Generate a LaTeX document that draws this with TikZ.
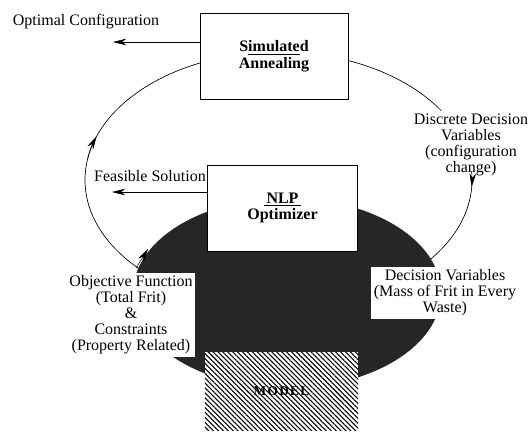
\documentclass[tikz,border=0pt]{standalone}
\usepackage{fontspec}
\setmainfont{Liberation Serif}
\usetikzlibrary{arrows.meta,patterns.meta}

\begin{document}
\begin{tikzpicture}[x=0.75pt,y=-0.75pt,>={Stealth[length=10pt,width=5pt]},
    every node/.style={font=\fontsize{12}{12}\selectfont},
    block/.style={draw, line width=0.6pt, fill=white, align=center, font=\fontsize{12}{12.5}\selectfont\bfseries},
    note/.style={fill=white, align=center, inner sep=2pt}]
  \useasboundingbox (0,0) rectangle (532,433);
  % the outer loop, drawn first so the boxes hide it
  \coordinate (c) at (278.5,180);
  \draw[line width=0.5pt] (c) ellipse [x radius=193.5, y radius=128];
  % dark region under the optimizer
  \fill[black!85] (287,293) ellipse [x radius=154, y radius=95];

  \node[block, minimum width=111pt, minimum height=65pt] (sa) at (274,56.5) {S\underline{imulate}d\\Annealing};
  \node[block, minimum width=112pt, minimum height=64.5pt] (nlp) at (282.5,208) {\underline{\,NLP\,}\\Optimizer};
  \node[fill=white, postaction={pattern={Lines[angle=-45,distance=2.6pt,line width=0.8pt]}},
        minimum width=115pt, minimum height=58.5pt,
        font=\fontsize{10}{10}\selectfont\bfseries\addfontfeature{LetterSpace=10}] (model) at (281.5,391) {MODEL};

  % labels on the loop
  \node[note] (disc) at (471,145) {Discrete Decision\\Variables\\(configuration\\change)};
  \node[note] (dv) at (445,293) {Decision Variables\\(Mass of Frit in Every\\Waste)};
  \node[note] (obj) at (131,315) {Objective Function\\(Total Frit)\\\&\\Constraints\\(Property Related)};

  % arrow heads on the loop
  \draw[->] (471.5,171.1) arc[start angle=-4, end angle=3, x radius=193.5, y radius=128];
  \draw[->] (87.9,157.8) arc[start angle=190, end angle=200, x radius=193.5, y radius=128];
  \draw[->] (136,268) -- (148,249);

  % outputs
  \node (opt) at (86,22) {Optimal Configuration};
  \coordinate (optend) at (113,42);
  \draw[->] (sa.west |- optend) -- (optend);
  \node (feas) at (150,176) {Feasible Solution};
  \coordinate (feasend) at (112,192);
  \draw[->] (nlp.west |- feasend) -- (feasend);
\end{tikzpicture}
\end{document}
